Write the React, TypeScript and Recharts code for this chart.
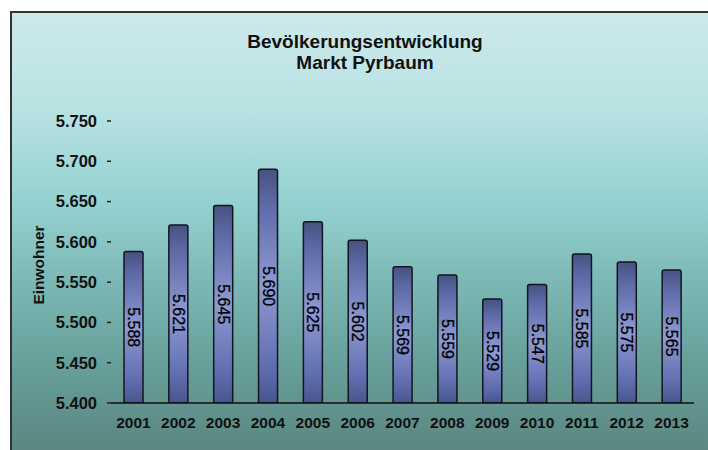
import React from 'react';
import { BarChart, Bar, XAxis, YAxis, LabelList } from 'recharts';

const years = ['2001', '2002', '2003', '2004', '2005', '2006', '2007', '2008', '2009', '2010', '2011', '2012', '2013'];
const einwohner = [5588, 5621, 5645, 5690, 5625, 5602, 5569, 5559, 5529, 5547, 5585, 5575, 5565];
const yTicks = [5400, 5450, 5500, 5550, 5600, 5650, 5700, 5750];

const data = years.map((year, i) => ({ year, value: einwohner[i] }));

const fmt = (v: number) => (v / 1000).toFixed(3);
const font = 'Arial, "Liberation Sans", sans-serif';

// value written top-to-bottom inside the bar
const BarValue = (props: any) => {
  const { x, y, width, height, value } = props;
  const cx = x + width / 2;
  const cy = y + height / 2;
  return (
    <text
      x={cx}
      y={cy}
      transform={`rotate(90, ${cx}, ${cy})`}
      textAnchor="middle"
      dominantBaseline="central"
      fontSize={16}
      fontFamily={font}
      fill="#000"
      stroke="#000"
      strokeWidth={0.3}
    >
      {fmt(value)}
    </text>
  );
};

const App: React.FC = () => {
  return (
    <div style={{ position: 'absolute', left: 0, top: 0, width: 708, height: 450, background: '#fff', overflow: 'hidden' }}>
      <div
        style={{
          position: 'absolute',
          left: 10,
          top: 11,
          width: 760,
          height: 600,
          border: '2px solid #333',
          background: 'linear-gradient(to bottom, #cde9ea 0%, #b9e2e3 16%, #95d2d1 31%, #7bb8b5 45%, #68a09b 58%, #5b8782 73%, #55807a 100%)',
        }}
      />
      <div
        style={{
          position: 'absolute',
          left: 0,
          top: 31,
          width: 730,
          textAlign: 'center',
          fontFamily: font,
          fontWeight: 'bold',
          fontSize: 19,
          lineHeight: '21px',
          color: '#111',
        }}
      >
        Bevölkerungsentwicklung
        <br />
        Markt Pyrbaum
      </div>
      <div
        style={{
          position: 'absolute',
          left: 39,
          top: 265,
          transform: 'translate(-50%, -50%) rotate(-90deg)',
          fontFamily: font,
          fontWeight: 'bold',
          fontSize: 15.5,
          color: '#111',
          whiteSpace: 'nowrap',
        }}
      >
        Einwohner
      </div>
      <div style={{ position: 'absolute', left: 0, top: 0 }}>
        <BarChart width={708} height={450} data={data} margin={{ top: 121, right: 14, bottom: 17, left: 0 }} barSize={19}>
          <defs>
            <linearGradient id="barFill" x1="0" y1="0" x2="0" y2="1">
              <stop offset="0%" stopColor="#46527f" />
              <stop offset="15%" stopColor="#5d6aa8" />
              <stop offset="50%" stopColor="#8e9ad2" />
              <stop offset="85%" stopColor="#5f6db0" />
              <stop offset="100%" stopColor="#48558c" />
            </linearGradient>
          </defs>
          <XAxis
            dataKey="year"
            height={30}
            axisLine={{ stroke: '#111', strokeWidth: 1.5 }}
            tickLine={false}
            tickSize={0}
            tickMargin={14}
            tick={{ fill: '#111', fontSize: 15.5, fontWeight: 'bold', fontFamily: font }}
            interval={0}
          />
          <YAxis
            width={111}
            domain={[5400, 5750]}
            ticks={yTicks}
            allowDataOverflow
            axisLine={false}
            tickLine={{ stroke: '#222', strokeWidth: 1.5 }}
            tickSize={4}
            tickMargin={10}
            tickFormatter={fmt}
            tick={{ fill: '#111', fontSize: 16.5, fontWeight: 'bold', fontFamily: font }}
          />
          <Bar dataKey="value" fill="url(#barFill)" stroke="#15151f" strokeWidth={1.5} radius={[2, 2, 0, 0]} isAnimationActive={false}>
            <LabelList dataKey="value" content={BarValue} />
          </Bar>
        </BarChart>
      </div>
    </div>
  );
};

export default App;
